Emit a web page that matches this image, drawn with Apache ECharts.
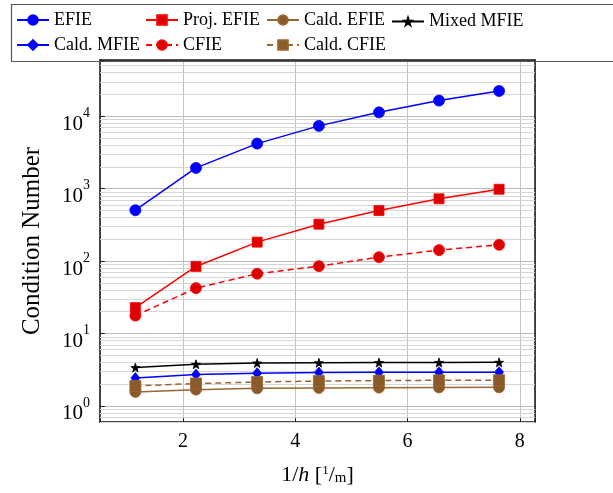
<!DOCTYPE html>
<html><head><meta charset="utf-8">
<script src="https://cdn.jsdelivr.net/npm/echarts@6/dist/echarts.min.js"></script>
<style>html,body{margin:0;padding:0;background:#fff}#c{width:613px;height:493px}</style>
</head><body><div id="c"></div>
<script>
const xValues = [1.15, 2.23, 3.32, 4.42, 5.49, 6.56, 7.63];
const efie = [505, 1940, 4200, 7380, 11350, 16500, 22400];
const projEfie = [22.8, 84.5, 183, 324, 500, 726, 984];
const caldEfie = [1.56, 1.68, 1.75, 1.77, 1.79, 1.80, 1.81];
const mixedMfie = [3.39, 3.76, 3.92, 3.95, 3.97, 3.99, 4.0];
const caldMfie = [2.43, 2.71, 2.83, 2.89, 2.91, 2.92, 2.93];
const cfie = [17.7, 42.4, 67, 85.3, 113.5, 142, 168];
const caldCfie = [1.89, 2.04, 2.14, 2.21, 2.24, 2.26, 2.27];
const yTicks = [1, 10, 100, 1000, 10000];
const xTicks = [2, 4, 6, 8];

const FONT = 'Liberation Serif';
const BLUE = '#0000ff', RED = '#ff0000', BROWN = '#996633', BROWNF = '#8a5a2a';
const STAR = 'path://M50,0 L61.8,35.1 L98.1,35.1 L68.8,56.7 L79.4,90.5 L50,70 L20.6,90.5 L31.2,56.7 L1.9,35.1 L38.2,35.1 Z';

const minorVals = [];
for (let k = -1; k <= 4; k++) {
  for (let m = 2; m <= 9; m++) {
    const v = m * Math.pow(10, k);
    if (v > 0.6 && v < 60000) minorVals.push(v);
  }
}

function pairs(arr) { return xValues.map((x, i) => [x, arr[i]]); }

function mk(name, arr, symbol, size, color, fill, dashed) {
  return {
    name, type: 'line', data: pairs(arr), symbol, symbolSize: size,
    lineStyle: { color, width: 1.5, type: dashed ? [6, 4] : 'solid' },
    itemStyle: { color: fill, borderColor: color, borderWidth: 0.8 },
    emphasis: { disabled: true }, animation: false, z: 10
  };
}

const series = [
  { name: '_minor', type: 'line', data: [], z: 1, silent: true,
    markLine: { silent: true, z: 1, symbol: 'none', animation: false, label: { show: false },
      lineStyle: { color: '#d6d6d6', width: 1, type: 'solid' },
      emphasis: { disabled: true },
      data: minorVals.map(v => ({ yAxis: v })) } },
  mk('EFIE', efie, 'circle', 11, BLUE, BLUE, false),
  mk('Proj. EFIE', projEfie, 'rect', 10, RED, '#dd0000', false),
  mk('Cald. EFIE', caldEfie, 'circle', 11, BROWN, BROWNF, false),
  mk('Mixed MFIE', mixedMfie, STAR, 9, '#000', '#000', false),
  mk('Cald. MFIE', caldMfie, 'diamond', [9, 11], BLUE, BLUE, false),
  mk('CFIE', cfie, 'circle', 11, RED, '#dd0000', true),
  mk('Cald. CFIE', caldCfie, 'rect', 11, BROWN, BROWNF, true)
];

const legendPos = [
  ['EFIE', 16, 0, 12], ['Proj. EFIE', 145, 0, 12], ['Cald. EFIE', 266, 0, 12], ['Mixed MFIE', 391, 0, 9],
  ['Cald. MFIE', 16, 1, 12], ['CFIE', 145, 1, 12], ['Cald. CFIE', 266, 1, 12]
];
const legends = legendPos.map(([n, l, r, h]) => ({
  data: [n], left: l, top: (r === 0 ? 17 : 42) - h / 2, padding: 0,
  itemWidth: 32, itemHeight: h, selectedMode: false,
  textStyle: { fontFamily: FONT, fontSize: 18, color: '#000' }
}));

const frameAxis = { show: true, axisLine: { show: true, lineStyle: { color: '#111', width: 1.5 } },
  axisTick: { show: false }, axisLabel: { show: false }, splitLine: { show: false } };

const chart = echarts.init(document.getElementById('c'), null, { renderer: 'canvas' });
chart.setOption({
  animation: false,
  backgroundColor: '#fff',
  legend: legends,
  grid: { left: 100, right: 78, top: 60, bottom: 71 },
  xAxis: [{
    type: 'value', min: 0.52, max: 8.27, splitNumber: 4, position: 'bottom',
    axisLine: { show: true, lineStyle: { color: '#111', width: 1.5 } },
    axisTick: { show: true, inside: true, length: 4, lineStyle: { color: '#222' } },
    axisLabel: { margin: 10, fontFamily: FONT, fontSize: 20, color: '#000',
      formatter: v => xTicks.includes(v) ? String(v) : '' },
    splitLine: { show: true, lineStyle: { color: '#c4c4c4', width: 1 } },
    name: '{n|1/}{i|h}{n| [}{s|1}{n|/}{m|m}{n|]}', nameLocation: 'middle', nameGap: 42,
    nameTextStyle: { fontFamily: FONT, fontSize: 22, color: '#000',
      rich: { n: { fontFamily: FONT, fontSize: 22 }, i: { fontFamily: FONT, fontSize: 22, fontStyle: 'italic' },
        s: { fontFamily: FONT, fontSize: 13, verticalAlign: 'top' }, m: { fontFamily: FONT, fontSize: 15, verticalAlign: 'bottom' } } }
  }, Object.assign({ type: 'value', min: 0.52, max: 8.27, position: 'top' }, frameAxis)],
  yAxis: [{
    type: 'log', logBase: 10, min: 0.6, max: 60000, position: 'left',
    axisLine: { show: true, lineStyle: { color: '#111', width: 1.5 } },
    axisTick: { show: true, inside: true, length: 5, lineStyle: { color: '#222' } },
    axisLabel: { margin: 10, color: '#000', padding: [16, 0, 0, 0],
      formatter: v => {
        const idx = yTicks.findIndex(t => Math.abs(t - v) / t < 1e-6);
        return idx < 0 ? '' : '{b|10}{e|' + Math.round(Math.log10(yTicks[idx])) + '}';
      },
      rich: {
        b: { fontFamily: FONT, fontSize: 21, lineHeight: 36 },
        e: { fontFamily: FONT, fontSize: 14, lineHeight: 14, verticalAlign: 'top' }
      } },
    splitLine: { show: true, lineStyle: { color: '#bababa', width: 1 } }
  }, Object.assign({ type: 'log', logBase: 10, min: 0.6, max: 60000, position: 'right' }, frameAxis)],
  graphic: [
    { type: 'rect', left: 9, top: 2, shape: { width: 640, height: 57 }, style: { fill: 'none', stroke: '#555', lineWidth: 1.2 }, z: 100 },
    { type: 'text', x: 32, y: 241, rotation: Math.PI / 2,
      style: { text: 'Condition Number', font: '25px "Liberation Serif"', fill: '#000', align: 'center', verticalAlign: 'middle' } }
  ],
  series
});
</script></body></html>
